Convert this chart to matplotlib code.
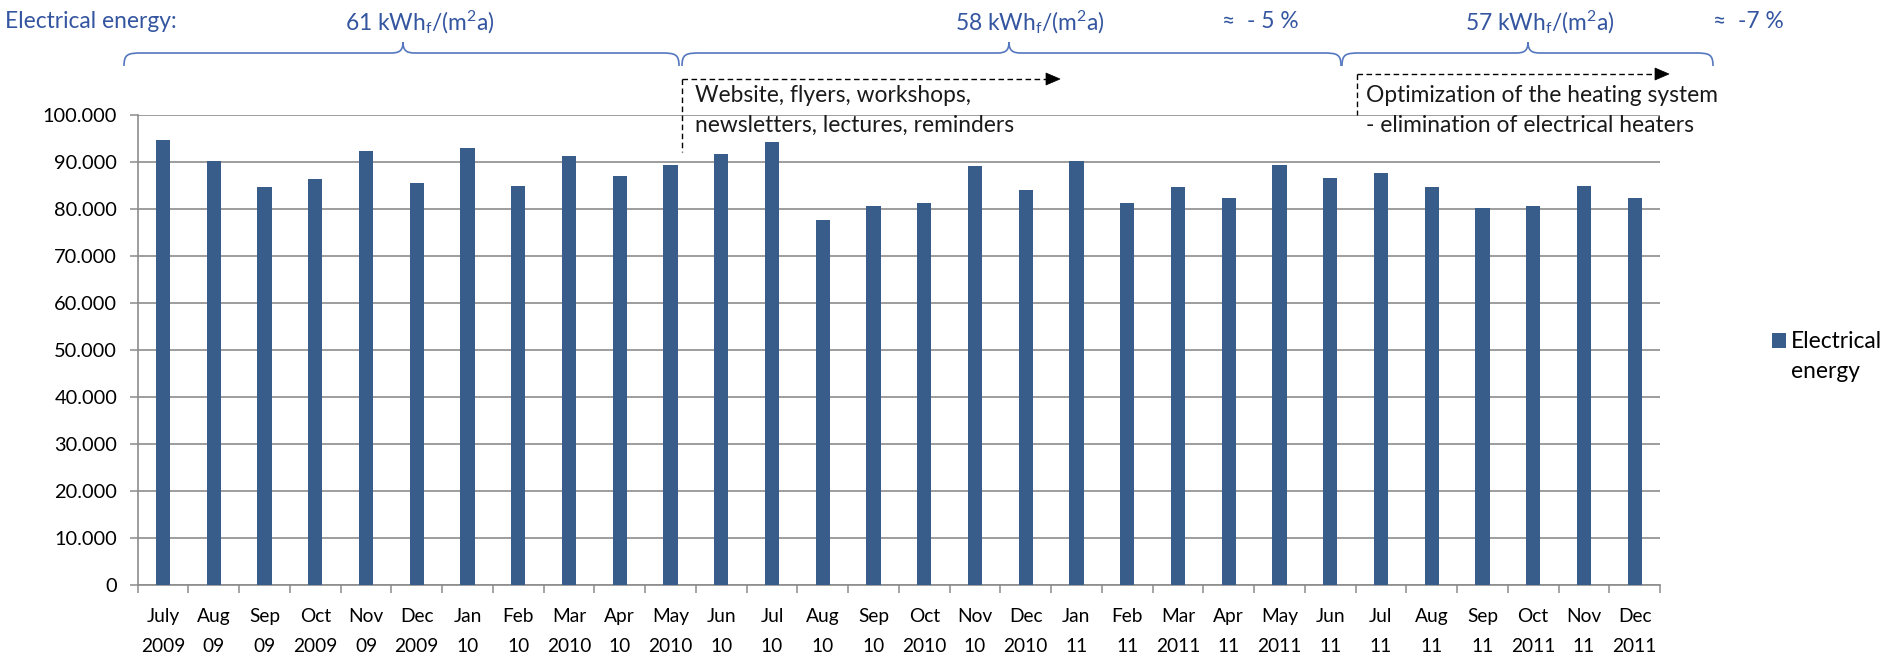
import matplotlib
matplotlib.use("Agg")
import matplotlib.pyplot as plt
from matplotlib.path import Path
from matplotlib.patches import PathPatch, Polygon
from matplotlib.lines import Line2D
import numpy as np

# ---------------- DATA ----------------
months = ["July", "Aug", "Sep", "Oct", "Nov", "Dec", "Jan", "Feb", "Mar", "Apr",
          "May", "Jun", "Jul", "Aug", "Sep", "Oct", "Nov", "Dec", "Jan", "Feb",
          "Mar", "Apr", "May", "Jun", "Jul", "Aug", "Sep", "Oct", "Nov", "Dec"]
years = ["2009", "09", "09", "2009", "09", "2009", "10", "10", "2010", "10",
         "2010", "10", "10", "10", "10", "2010", "10", "2010", "11", "11",
         "2011", "11", "2011", "11", "11", "11", "11", "2011", "11", "2011"]
electrical_energy = [94600, 90100, 84600, 86400, 92200, 85400, 92900, 84900, 91200, 87000,
                     89400, 91600, 94300, 77700, 80500, 81200, 89100, 83900, 90100, 81200,
                     84600, 82200, 89400, 86600, 87700, 84600, 80100, 80500, 84900, 82200]
series_label = ["Electrical", "energy"]
y_ticks = list(range(0, 100001, 10000))
header_label = "Electrical energy:"
period_labels = ["61 kWh$_\\mathrm{f}$/(m$^\\mathrm{2}$a)",
                 "58 kWh$_\\mathrm{f}$/(m$^\\mathrm{2}$a)",
                 "57 kWh$_\\mathrm{f}$/(m$^\\mathrm{2}$a)"]
change_labels = ["\u2248  - 5 %", "\u2248  -7 %"]
measure_texts = [["Website, flyers, workshops,", "newsletters, lectures, reminders"],
                 ["Optimization of the heating system", "- elimination of electrical heaters"]]

# ---------------- STYLE ----------------
W, H = 1895, 657
plt.rcParams['font.family'] = ['Lato', 'DejaVu Sans']
plt.rcParams['mathtext.fontset'] = 'custom'
plt.rcParams['mathtext.rm'] = 'Lato'
plt.rcParams['mathtext.it'] = 'Lato:italic'
FS_X = 13.8
FS_Y = 14.4
FS_T = 16.4
BAR = '#385D8A'
GRID = '#8C8C8C'
BLUE_T = '#34559F'
BLUE_B = '#5577BF'

fig = plt.figure(figsize=(W / 100, H / 100), dpi=100)
ax = fig.add_axes([137.7 / W, 1 - 585 / H, (1660 - 137.7) / W, (585 - 114.7) / H])

x = np.arange(len(months))
ax.bar(x, electrical_energy, width=0.28, color=BAR, label=series_label[0], zorder=3)

ax.set_xlim(-0.5, len(months) - 0.5)
ax.set_ylim(0, 100000)
ax.set_yticks(y_ticks)
ax.set_yticklabels([f"{v:,.0f}".replace(",", ".") for v in y_ticks], fontsize=FS_Y)
ax.yaxis.grid(True, color=GRID, linewidth=1.2, zorder=0)
ax.set_axisbelow(True)

ax.set_xticks(x)
ax.set_xticklabels([f"{m}\n{yv}" for m, yv in zip(months, years)], fontsize=FS_X, linespacing=1.9)
ax.set_xticks(np.arange(-0.5, len(months)), minor=True)
ax.tick_params(axis='x', which='major', length=0, pad=16.5)
ax.tick_params(axis='x', which='minor', length=5.8, color=GRID, width=1.1)
ax.tick_params(axis='y', length=5.8, color=GRID, width=1.1, pad=9)

for s in ['top', 'right']:
    ax.spines[s].set_visible(False)
for s in ['left', 'bottom']:
    ax.spines[s].set_color(GRID)
    ax.spines[s].set_linewidth(1.2)


def fx(px):
    return px / W


def fy(py):
    return 1 - py / H


leg = fig.legend(loc='center left', bbox_to_anchor=(fx(1772), fy(342)), frameon=False,
                 fontsize=FS_T, handlelength=0.6, handleheight=0.6, handletextpad=0.25,
                 borderpad=0, borderaxespad=0)
fig.canvas.draw()
lx0 = leg.get_texts()[0].get_window_extent().x0
fig.text(lx0 / W, fy(371), series_label[1], fontsize=FS_T, ha='left', va='center')

# ---------------- HEADER TEXT ----------------
fig.text(fx(5), fy(22), header_label, color=BLUE_T, fontsize=FS_T, ha='left', va='center')
for lbl, cx in zip(period_labels, [420, 1030, 1540]):
    fig.text(fx(cx), fy(22), lbl, color=BLUE_T, fontsize=FS_T, ha='center', va='center')
for lbl, lx in zip(change_labels, [1222, 1713]):
    fig.text(fx(lx), fy(22), lbl, color=BLUE_T, fontsize=FS_T, ha='left', va='center')


# ---------------- BRACES ----------------
def brace(x0, xt, x1, yb=66, yl=53, ytip=42):
    pts = [(x0, yb), (x0, yl + 1), (x0 + 4, yl), (x0 + 18, yl),
           (xt - 12, yl),
           (xt - 4, yl), (xt, yl - 2), (xt, ytip),
           (xt, yl - 2), (xt + 4, yl), (xt + 12, yl),
           (x1 - 18, yl),
           (x1 - 4, yl), (x1, yl + 1), (x1, yb)]
    codes = [Path.MOVETO, Path.CURVE4, Path.CURVE4, Path.CURVE4,
             Path.LINETO,
             Path.CURVE4, Path.CURVE4, Path.CURVE4,
             Path.CURVE4, Path.CURVE4, Path.CURVE4,
             Path.LINETO,
             Path.CURVE4, Path.CURVE4, Path.CURVE4]
    verts = [(fx(a), fy(b)) for a, b in pts]
    p = PathPatch(Path(verts, codes), transform=fig.transFigure, fill=False,
                  edgecolor=BLUE_B, linewidth=1.2)
    fig.add_artist(p)


brace(124, 403, 679)
brace(682, 1009, 1341)
brace(1342, 1528, 1713)


# ---------------- DASHED ARROWS ----------------
def dashed_arrow(x0, x1, y, ybot):
    fig.add_artist(Line2D([fx(x0), fx(x0)], [fy(y), fy(ybot)], transform=fig.transFigure,
                          color='black', linewidth=1.0, dashes=(4, 2.5)))
    fig.add_artist(Line2D([fx(x0), fx(x1 - 12)], [fy(y), fy(y)], transform=fig.transFigure,
                          color='black', linewidth=1.0, dashes=(4, 2.5)))
    fig.add_artist(Polygon([(fx(x1), fy(y)), (fx(x1 - 14), fy(y - 6)), (fx(x1 - 14), fy(y + 6))],
                           closed=True, transform=fig.transFigure, facecolor='black',
                           edgecolor='black', linewidth=0.5))


dashed_arrow(682, 1060, 79, 152)
dashed_arrow(1357, 1669, 74, 115)

for lines, lx in zip(measure_texts, [695, 1366]):
    for line, cy in zip(lines, [96, 125]):
        fig.text(fx(lx), fy(cy), line, color='#1A1A1A', fontsize=FS_T, ha='left', va='center')

fig.savefig("out.png", dpi=100)
